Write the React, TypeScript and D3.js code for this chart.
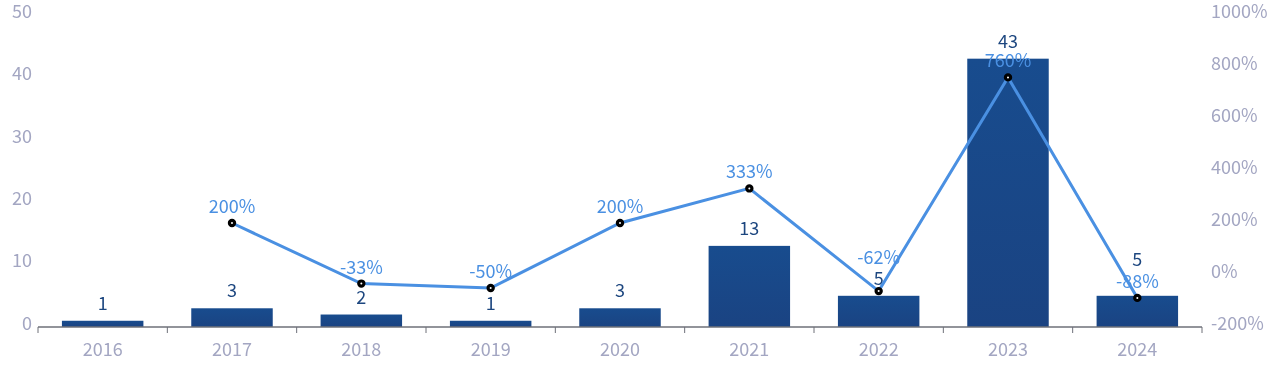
import React from "react";
import * as d3 from "d3";

const years = ["2016", "2017", "2018", "2019", "2020", "2021", "2022", "2023", "2024"];
const counts = [1, 3, 2, 1, 3, 13, 5, 43, 5];
const growth: (number | null)[] = [null, 200, -33, -50, 200, 333, -62, 760, -88];
const leftTicks = [0, 10, 20, 30, 40, 50];
const rightTicks = [-200, 0, 200, 400, 600, 800, 1000];

const W = 1280;
const H = 382;
const m = { left: 38, right: 78, top: 15, bottom: 55 };
const FONT = "'Noto Sans CJK SC', 'Noto Sans', sans-serif";
const TICK_COLOR = "#a3a6c2";
const LABEL_GAP = 21;

export default function App() {
  const x = d3.scaleBand<string>().domain(years).range([m.left, W - m.right]).paddingInner(0.37).paddingOuter(0.185);
  const xOuter = d3.scaleBand<string>().domain(years).range([m.left, W - m.right]);
  const yL = d3.scaleLinear().domain([0, 50]).range([H - m.bottom, m.top]);
  const yR = d3.scaleLinear().domain([-200, 1000]).range([H - m.bottom, m.top]);
  const cx = (yr: string) => (xOuter(yr) as number) + xOuter.bandwidth() / 2;
  const pts = years
    .map((yr, i) => ({ yr, g: growth[i], i }))
    .filter((d) => d.g !== null) as { yr: string; g: number; i: number }[];
  const line = d3
    .line<{ yr: string; g: number }>()
    .x((d) => cx(d.yr))
    .y((d) => yR(d.g));
  const base = yL(0);

  // label layout: default positions, then resolve the two collisions seen in the chart
  const barLabelY = counts.map((c) => yL(c) - 11);
  const growthLabelY = growth.map((g) => (g === null ? 0 : yR(g) - 10));
  const idx22 = years.indexOf("2022");
  const idx24 = years.indexOf("2024");
  growthLabelY[idx22] = barLabelY[idx22] - LABEL_GAP;
  barLabelY[idx24] = growthLabelY[idx24] - LABEL_GAP - 1;

  return (
    <div style={{ position: "fixed", left: 0, top: 0 }}>
      <svg width={W} height={H} style={{ display: "block", fontFamily: FONT }}>
        <defs>
          <linearGradient id="barGrad" x1="0" y1="0" x2="0" y2="1">
            <stop offset="0%" stopColor="#184c8e" />
            <stop offset="100%" stopColor="#1a4382" />
          </linearGradient>
        </defs>
        {leftTicks.map((t) => (
          <text key={"l" + t} x={32} y={yL(t) - 3} dy="0.32em" textAnchor="end" fontSize={18} fill={TICK_COLOR}>
            {t}
          </text>
        ))}
        {rightTicks.map((t) => (
          <text key={"r" + t} x={W - m.right + 9} y={yR(t) - 3} dy="0.32em" textAnchor="start" fontSize={18} fill={TICK_COLOR}>
            {t + "%"}
          </text>
        ))}
        {years.map((yr, i) => (
          <rect
            key={"b" + yr}
            x={x(yr)}
            y={yL(counts[i])}
            width={x.bandwidth()}
            height={base - yL(counts[i])}
            fill="url(#barGrad)"
          />
        ))}
        <line x1={m.left} x2={W - m.right} y1={base} y2={base} stroke="#6e7079" strokeWidth={1.5} />
        {years.map((yr) => (
          <line key={"t" + yr} x1={xOuter(yr)} x2={xOuter(yr)} y1={base} y2={base + 6} stroke="#6e7079" strokeWidth={1} />
        ))}
        <line x1={W - m.right} x2={W - m.right} y1={base} y2={base + 6} stroke="#6e7079" strokeWidth={1} />
        {years.map((yr) => (
          <text key={"x" + yr} x={cx(yr)} y={base + 23} dy="0.32em" textAnchor="middle" fontSize={18} fill={TICK_COLOR}>
            {yr}
          </text>
        ))}
        {years.map((yr, i) => (
          <text key={"v" + yr} x={(x(yr) as number) + x.bandwidth() / 2} y={barLabelY[i]} textAnchor="middle" fontSize={18} fill="#1c467f">
            {counts[i]}
          </text>
        ))}
        <path d={line(pts) || ""} fill="none" stroke="#4a90e2" strokeWidth={3} />
        {pts.map((d) => (
          <circle key={"c" + d.yr} cx={cx(d.yr)} cy={yR(d.g)} r={2.6} fill="#ffffff" stroke="#000" strokeWidth={3.2} />
        ))}
        {pts.map((d) => (
          <text key={"g" + d.yr} x={cx(d.yr)} y={growthLabelY[d.i]} textAnchor="middle" fontSize={18} fill="#4a90e2">
            {d.g + "%"}
          </text>
        ))}
      </svg>
    </div>
  );
}
